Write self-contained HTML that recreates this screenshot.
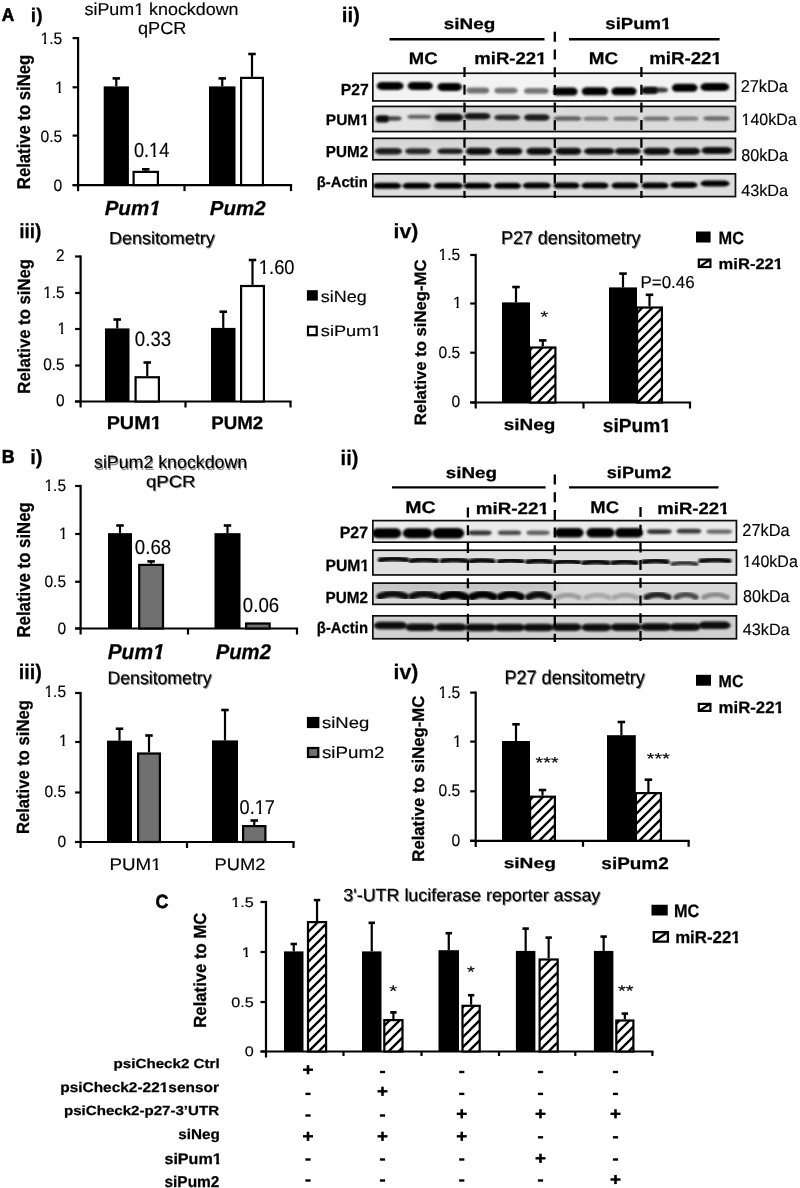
<!DOCTYPE html>
<html><head><meta charset="utf-8"><title>Figure</title>
<style>
html,body{margin:0;padding:0;background:#fff;}
svg{display:block;}
.sh{filter:url(#sh);}
text{font-family:"Liberation Sans",sans-serif;font-kerning:none;text-rendering:geometricPrecision;}
text[font-weight="bold"]{stroke:#000;stroke-width:0.25px;}
text:not([font-weight]):not(.sh){stroke:#000;stroke-width:0.15px;}
text.pl{stroke-width:0.6px;}
</style></head><body>
<svg width="800" height="1188" viewBox="0 0 800 1188">
<defs>
<pattern id="hatch" patternUnits="userSpaceOnUse" width="10" height="10">
<rect width="10" height="10" fill="#fff"/>
<path d="M-2.5,2.5 L2.5,-2.5 M-2.5,12.5 L12.5,-2.5 M7.5,12.5 L12.5,7.5" stroke="#000" stroke-width="2.3"/>
</pattern>
<filter id="f1" x="-30%" y="-100%" width="160%" height="300%"><feGaussianBlur stdDeviation="0.8"/></filter>
<filter id="f2" x="-30%" y="-100%" width="160%" height="300%"><feGaussianBlur stdDeviation="1.6"/></filter>
<filter id="soft" x="0" y="0" width="800" height="1188" filterUnits="userSpaceOnUse"><feGaussianBlur stdDeviation="0.35"/></filter>
<filter id="sh" x="-10%" y="-50%" width="120%" height="200%"><feGaussianBlur stdDeviation="0.6"/></filter>
<filter id="f3" x="-20%" y="-50%" width="140%" height="200%"><feGaussianBlur stdDeviation="3"/></filter>
<filter id="f0" x="-30%" y="-100%" width="160%" height="300%"><feGaussianBlur stdDeviation="0.6"/></filter>
</defs>
<rect width="800" height="1188" fill="#fff"/>
<g filter="url(#soft)">
<text transform="translate(1.87,21.30) scale(0.9447,1)" font-size="18.33" font-weight="bold" class="pl">A</text>
<text transform="translate(30.86,21.81) scale(0.9722,1)" font-size="19.73" font-weight="bold">i)</text>
<clipPath id="ft1" clipPathUnits="userSpaceOnUse"><rect x="-2000" y="-2000" width="5000" height="1997.12"/><rect x="-2000.00" y="-3.68" width="2047.83" height="2000"/><rect x="51.49" y="-3.68" width="2.42" height="2000"/><rect x="57.43" y="-3.68" width="2942.57" height="2000"/></clipPath>
<text transform="translate(84.51,15.43) scale(1.0438,1)" font-size="17.14" clip-path="url(#ft1)">siPum1 knockdown</text>
<text transform="translate(137.93,34.40) scale(1.0466,1)" font-size="17.35">qPCR</text>
<line x1="78.10" y1="37.00" x2="78.10" y2="191.20" stroke="#000" stroke-width="2.2"/>
<line x1="72.60" y1="38.10" x2="78.10" y2="38.10" stroke="#000" stroke-width="2.2"/>
<line x1="72.60" y1="87.30" x2="78.10" y2="87.30" stroke="#000" stroke-width="2.2"/>
<line x1="72.60" y1="135.60" x2="78.10" y2="135.60" stroke="#000" stroke-width="2.2"/>
<line x1="72.60" y1="185.10" x2="78.10" y2="185.10" stroke="#000" stroke-width="2.2"/>
<line x1="72.60" y1="185.10" x2="292.10" y2="185.10" stroke="#000" stroke-width="2.2"/>
<line x1="184.50" y1="185.10" x2="184.50" y2="191.10" stroke="#000" stroke-width="2.2"/>
<line x1="291.00" y1="185.10" x2="291.00" y2="191.10" stroke="#000" stroke-width="2.2"/>
<clipPath id="ft2" clipPathUnits="userSpaceOnUse"><rect x="-2000" y="-2000" width="5000" height="1997.16"/><rect x="-2000.00" y="-3.64" width="1977.17" height="2000"/><rect x="-19.28" y="-3.64" width="2.36" height="2000"/><rect x="-13.50" y="-3.64" width="3013.50" height="2000"/></clipPath>
<text transform="translate(62.23,44.03) scale(0.9463,1)" font-size="16.54" text-anchor="end" clip-path="url(#ft2)">1.5</text>
<clipPath id="ft3" clipPathUnits="userSpaceOnUse"><rect x="-2000" y="-2000" width="5000" height="1997.16"/><rect x="-2000.00" y="-3.64" width="1990.96" height="2000"/><rect x="-5.49" y="-3.64" width="2.36" height="2000"/><rect x="0.29" y="-3.64" width="2999.71" height="2000"/></clipPath>
<text transform="translate(63.73,93.23) scale(0.9463,1)" font-size="16.54" text-anchor="end" clip-path="url(#ft3)">1</text>
<text transform="translate(62.23,141.53) scale(0.9463,1)" font-size="16.54" text-anchor="end">0.5</text>
<text transform="translate(62.23,191.03) scale(0.9463,1)" font-size="16.54" text-anchor="end">0</text>
<text transform="translate(30.36,189.13) rotate(-90) scale(0.8991,1)" font-size="18.56" font-weight="bold">Relative to siNeg</text>
<line x1="116.30" y1="78.40" x2="116.30" y2="86.40" stroke="#000" stroke-width="2.2"/>
<line x1="112.55" y1="78.40" x2="120.05" y2="78.40" stroke="#000" stroke-width="2.6"/>
<rect x="103.70" y="86.40" width="25.20" height="98.70" fill="#000"/>
<line x1="145.75" y1="169.30" x2="145.75" y2="170.80" stroke="#000" stroke-width="2.2"/>
<line x1="142.00" y1="169.30" x2="149.50" y2="169.30" stroke="#000" stroke-width="2.6"/>
<rect x="133.60" y="171.90" width="24.30" height="13.20" fill="#fff" stroke="#000" stroke-width="2.2"/>
<line x1="222.25" y1="78.40" x2="222.25" y2="86.40" stroke="#000" stroke-width="2.2"/>
<line x1="218.50" y1="78.40" x2="226.00" y2="78.40" stroke="#000" stroke-width="2.6"/>
<rect x="209.00" y="86.40" width="26.50" height="98.70" fill="#000"/>
<line x1="252.00" y1="54.00" x2="252.00" y2="76.80" stroke="#000" stroke-width="2.2"/>
<line x1="248.25" y1="54.00" x2="255.75" y2="54.00" stroke="#000" stroke-width="2.6"/>
<rect x="241.10" y="77.90" width="21.80" height="107.20" fill="#fff" stroke="#000" stroke-width="2.2"/>
<clipPath id="ft4" clipPathUnits="userSpaceOnUse"><rect x="-2000" y="-2000" width="5000" height="1996.87"/><rect x="-2000.00" y="-3.93" width="2017.55" height="2000"/><rect x="21.80" y="-3.93" width="2.71" height="2000"/><rect x="28.59" y="-3.93" width="2971.41" height="2000"/></clipPath>
<text transform="translate(133.97,157.20) scale(0.8862,1)" font-size="20.49" clip-path="url(#ft4)">0.14</text>
<clipPath id="ft5" clipPathUnits="userSpaceOnUse"><rect x="-2000" y="-2000" width="5000" height="1996.09"/><rect x="-2000.00" y="-4.71" width="2043.66" height="2000"/><rect x="47.78" y="-4.71" width="4.16" height="2000"/><rect x="55.39" y="-4.71" width="2944.61" height="2000"/></clipPath>
<text transform="translate(104.64,215.09) scale(1.0045,1)" font-size="20.50" font-weight="bold" font-style="italic" clip-path="url(#ft5)">Pum1</text>
<text transform="translate(209.84,215.10) scale(1.0152,1)" font-size="20.21" font-weight="bold" font-style="italic">Pum2</text>
<!--A-ii-->
<text transform="translate(341.66,22.14) scale(0.9794,1)" font-size="21.02" font-weight="bold">ii)</text>
<text transform="translate(443.74,28.74) scale(1.2313,1)" font-size="15.36" font-weight="bold">siNeg</text>
<line x1="389.50" y1="39.30" x2="544.50" y2="39.30" stroke="#000" stroke-width="2.4"/>
<clipPath id="ft6" clipPathUnits="userSpaceOnUse"><rect x="-2000" y="-2000" width="5000" height="1996.76"/><rect x="-2000.00" y="-4.04" width="2048.09" height="2000"/><rect x="51.48" y="-4.04" width="3.10" height="2000"/><rect x="57.76" y="-4.04" width="2942.24" height="2000"/></clipPath>
<text transform="translate(605.35,29.24) scale(1.1580,1)" font-size="16.05" font-weight="bold" clip-path="url(#ft6)">siPum1</text>
<line x1="569.00" y1="39.30" x2="719.60" y2="39.30" stroke="#000" stroke-width="2.4"/>
<text transform="translate(408.75,64.23) scale(1.1088,1)" font-size="16.68" font-weight="bold">MC</text>
<clipPath id="ft7" clipPathUnits="userSpaceOnUse"><rect x="-2000" y="-2000" width="5000" height="1996.68"/><rect x="-2000.00" y="-4.12" width="2056.07" height="2000"/><rect x="59.59" y="-4.12" width="3.21" height="2000"/><rect x="66.10" y="-4.12" width="2933.90" height="2000"/></clipPath>
<text transform="translate(474.29,64.40) scale(1.1021,1)" font-size="16.83" font-weight="bold" clip-path="url(#ft7)">miR-221</text>
<text transform="translate(588.72,64.23) scale(1.1146,1)" font-size="16.96" font-weight="bold">MC</text>
<clipPath id="ft8" clipPathUnits="userSpaceOnUse"><rect x="-2000" y="-2000" width="5000" height="1996.65"/><rect x="-2000.00" y="-4.15" width="2057.01" height="2000"/><rect x="60.57" y="-4.15" width="3.25" height="2000"/><rect x="67.17" y="-4.15" width="2932.83" height="2000"/></clipPath>
<text transform="translate(649.19,64.40) scale(1.0923,1)" font-size="17.10" font-weight="bold" clip-path="url(#ft8)">miR-221</text>
<text transform="translate(340.84,95.00) scale(0.9742,1)" font-size="16.13" font-weight="bold">P27</text>
<clipPath id="ft9" clipPathUnits="userSpaceOnUse"><rect x="-2000" y="-2000" width="5000" height="1996.85"/><rect x="-2000.00" y="-3.95" width="2033.63" height="2000"/><rect x="36.87" y="-3.95" width="2.99" height="2000"/><rect x="42.90" y="-3.95" width="2957.10" height="2000"/></clipPath>
<text transform="translate(325.85,125.45) scale(1.0190,1)" font-size="15.20" font-weight="bold" clip-path="url(#ft9)">PUM1</text>
<text transform="translate(325.87,156.74) scale(0.9521,1)" font-size="15.97" font-weight="bold">PUM2</text>
<text transform="translate(316.76,186.93) scale(0.9996,1)" font-size="14.80" font-weight="bold">β-Actin</text>
<text transform="translate(740.68,92.23) scale(0.9551,1)" font-size="17.14">27kDa</text>
<clipPath id="ft10" clipPathUnits="userSpaceOnUse"><rect x="-2000" y="-2000" width="5000" height="1997.17"/><rect x="-2000.00" y="-3.63" width="2000.15" height="2000"/><rect x="3.69" y="-3.63" width="2.35" height="2000"/><rect x="9.45" y="-3.63" width="2990.55" height="2000"/></clipPath>
<text transform="translate(741.58,125.14) scale(0.9719,1)" font-size="16.46" clip-path="url(#ft10)">140kDa</text>
<text transform="translate(741.31,161.23) scale(0.9423,1)" font-size="17.14">80kDa</text>
<text transform="translate(741.14,195.64) scale(0.9932,1)" font-size="16.33">43kDa</text>
<clipPath id="cA1"><rect x="372.00" y="72.40" width="364.30" height="29.40"/></clipPath>
<rect x="372.00" y="72.40" width="364.30" height="29.40" fill="#f3f3f3"/>
<g clip-path="url(#cA1)">
<rect x="376.70" y="82.10" width="26.90" height="7.80" rx="5.38" ry="3.90" fill="#000" filter="url(#f1)"/>
<rect x="407.60" y="82.10" width="25.30" height="7.80" rx="5.06" ry="3.90" fill="#000" filter="url(#f1)"/>
<rect x="437.30" y="83.10" width="24.60" height="7.80" rx="4.92" ry="3.90" fill="#000" filter="url(#f1)"/>
<rect x="466.30" y="87.60" width="22.90" height="5.80" rx="4.58" ry="2.90" fill="#707070" filter="url(#f1)"/>
<rect x="494.30" y="87.70" width="23.30" height="5.80" rx="4.66" ry="2.90" fill="#747474" filter="url(#f1)"/>
<rect x="524.00" y="88.00" width="24.60" height="5.80" rx="4.92" ry="2.90" fill="#747474" filter="url(#f1)"/>
<rect x="553.20" y="87.60" width="24.40" height="8.00" rx="4.88" ry="4.00" fill="#000" filter="url(#f1)"/>
<rect x="581.70" y="87.30" width="26.40" height="8.00" rx="5.28" ry="4.00" fill="#000" filter="url(#f1)"/>
<rect x="611.40" y="87.30" width="25.20" height="8.00" rx="5.04" ry="4.00" fill="#000" filter="url(#f1)"/>
<rect x="642.20" y="87.60" width="25.80" height="5.00" rx="5.16" ry="2.50" fill="#3a3a3a" filter="url(#f1)"/>
<rect x="641.90" y="87.00" width="15.70" height="7.00" rx="3.14" ry="3.50" fill="#111" filter="url(#f1)"/>
<rect x="671.90" y="83.80" width="25.70" height="8.00" rx="5.14" ry="4.00" fill="#000" filter="url(#f1)"/>
<rect x="700.40" y="83.00" width="28.90" height="8.00" rx="5.78" ry="4.00" fill="#000" filter="url(#f1)"/>
</g>
<rect x="372.85" y="73.25" width="362.60" height="27.70" fill="none" stroke="#111" stroke-width="1.7"/>
<clipPath id="cA2"><rect x="372.00" y="105.60" width="364.30" height="26.80"/></clipPath>
<rect x="372.00" y="105.60" width="364.30" height="26.80" fill="#e3e3e3"/>
<g clip-path="url(#cA2)">
<rect x="432.00" y="104.00" width="128.00" height="30.00" fill="#d6d6d6" filter="url(#f3)"/>
<rect x="560.00" y="104.00" width="180.00" height="30.00" fill="#dadada" filter="url(#f3)"/>
<rect x="376.40" y="116.15" width="25.20" height="4.50" rx="5.04" ry="2.25" fill="#444" filter="url(#f1)"/>
<rect x="375.90" y="115.50" width="12.70" height="7.00" rx="2.54" ry="3.50" fill="#111" filter="url(#f1)"/>
<rect x="407.40" y="114.80" width="23.60" height="4.00" rx="4.72" ry="2.00" fill="#606060" filter="url(#f1)"/>
<rect x="434.90" y="113.75" width="28.10" height="7.50" rx="5.62" ry="3.75" fill="#080808" filter="url(#f1)"/>
<rect x="464.40" y="113.05" width="26.00" height="6.50" rx="5.20" ry="3.25" fill="#151515" filter="url(#f1)"/>
<rect x="494.30" y="114.75" width="25.80" height="5.50" rx="5.16" ry="2.75" fill="#2a2a2a" filter="url(#f1)"/>
<rect x="524.00" y="114.25" width="25.60" height="6.50" rx="5.12" ry="3.25" fill="#1a1a1a" filter="url(#f1)"/>
<rect x="553.40" y="116.35" width="28.20" height="4.50" rx="5.64" ry="2.25" fill="#5e5e5e" filter="url(#f1)"/>
<rect x="583.40" y="116.60" width="25.20" height="4.20" rx="5.04" ry="2.10" fill="#7e7e7e" filter="url(#f1)"/>
<rect x="613.40" y="116.60" width="25.20" height="4.20" rx="5.04" ry="2.10" fill="#7a7a7a" filter="url(#f1)"/>
<rect x="643.40" y="116.60" width="26.20" height="4.20" rx="5.24" ry="2.10" fill="#6e6e6e" filter="url(#f1)"/>
<rect x="673.40" y="116.60" width="25.20" height="4.20" rx="5.04" ry="2.10" fill="#808080" filter="url(#f1)"/>
<rect x="703.40" y="116.25" width="26.20" height="4.50" rx="5.24" ry="2.25" fill="#6a6a6a" filter="url(#f1)"/>
</g>
<rect x="372.85" y="106.45" width="362.60" height="25.10" fill="none" stroke="#111" stroke-width="1.7"/>
<clipPath id="cA3"><rect x="372.00" y="137.50" width="364.30" height="23.10"/></clipPath>
<rect x="372.00" y="137.50" width="364.30" height="23.10" fill="#dcdcdc"/>
<g clip-path="url(#cA3)">
<rect x="370.00" y="136.00" width="370.00" height="10.00" fill="#d4d4d4" filter="url(#f3)"/>
<rect x="375.00" y="147.95" width="27.00" height="6.50" rx="5.40" ry="3.25" fill="#1c1c1c" filter="url(#f1)"/>
<rect x="405.20" y="148.20" width="25.80" height="6.00" rx="5.16" ry="3.00" fill="#282828" filter="url(#f1)"/>
<rect x="437.30" y="148.45" width="25.70" height="5.50" rx="5.14" ry="2.75" fill="#1a1a1a" filter="url(#f1)"/>
<rect x="465.80" y="147.70" width="25.80" height="7.00" rx="5.16" ry="3.50" fill="#080808" filter="url(#f1)"/>
<rect x="495.40" y="147.70" width="27.00" height="7.00" rx="5.40" ry="3.50" fill="#080808" filter="url(#f1)"/>
<rect x="526.40" y="147.70" width="25.70" height="7.00" rx="5.14" ry="3.50" fill="#080808" filter="url(#f1)"/>
<rect x="555.40" y="147.70" width="25.90" height="7.00" rx="5.18" ry="3.50" fill="#080808" filter="url(#f1)"/>
<rect x="584.00" y="147.95" width="30.60" height="6.50" rx="6.12" ry="3.25" fill="#080808" filter="url(#f1)"/>
<rect x="614.90" y="147.95" width="25.70" height="6.50" rx="5.14" ry="3.25" fill="#080808" filter="url(#f1)"/>
<rect x="643.40" y="147.70" width="27.00" height="7.00" rx="5.40" ry="3.50" fill="#080808" filter="url(#f1)"/>
<rect x="673.10" y="147.70" width="27.00" height="7.00" rx="5.40" ry="3.50" fill="#080808" filter="url(#f1)"/>
<rect x="701.40" y="147.00" width="30.70" height="7.00" rx="6.14" ry="3.50" fill="#080808" filter="url(#f1)"/>
</g>
<rect x="372.85" y="138.35" width="362.60" height="21.40" fill="none" stroke="#111" stroke-width="1.7"/>
<clipPath id="cA4"><rect x="372.00" y="173.00" width="364.30" height="24.40"/></clipPath>
<rect x="372.00" y="173.00" width="364.30" height="24.40" fill="#dedede"/>
<g clip-path="url(#cA4)">
<rect x="372.90" y="182.80" width="28.40" height="6.00" rx="5.68" ry="3.00" fill="#000" filter="url(#f1)"/>
<rect x="402.40" y="182.80" width="28.80" height="6.00" rx="5.76" ry="3.00" fill="#000" filter="url(#f1)"/>
<rect x="433.60" y="182.80" width="29.40" height="6.00" rx="5.88" ry="3.00" fill="#000" filter="url(#f1)"/>
<rect x="463.40" y="182.80" width="28.20" height="6.00" rx="5.64" ry="3.00" fill="#000" filter="url(#f1)"/>
<rect x="493.90" y="182.80" width="27.30" height="6.00" rx="5.46" ry="3.00" fill="#000" filter="url(#f1)"/>
<rect x="522.80" y="182.60" width="28.10" height="6.00" rx="5.62" ry="3.00" fill="#000" filter="url(#f1)"/>
<rect x="553.40" y="182.60" width="26.20" height="6.00" rx="5.24" ry="3.00" fill="#000" filter="url(#f1)"/>
<rect x="581.40" y="182.60" width="27.20" height="6.00" rx="5.44" ry="3.00" fill="#000" filter="url(#f1)"/>
<rect x="611.40" y="182.60" width="27.20" height="6.00" rx="5.44" ry="3.00" fill="#000" filter="url(#f1)"/>
<rect x="641.40" y="182.60" width="27.20" height="6.00" rx="5.44" ry="3.00" fill="#000" filter="url(#f1)"/>
<rect x="670.40" y="182.00" width="27.20" height="6.00" rx="5.44" ry="3.00" fill="#000" filter="url(#f1)"/>
<rect x="700.40" y="180.50" width="29.20" height="6.00" rx="5.84" ry="3.00" fill="#000" filter="url(#f1)"/>
</g>
<rect x="372.85" y="173.85" width="362.60" height="22.70" fill="none" stroke="#111" stroke-width="1.7"/>
<line x1="464.50" y1="67.00" x2="464.50" y2="198.00" stroke="#000" stroke-width="2.3" stroke-dasharray="10,7.7"/>
<line x1="554.80" y1="31.80" x2="554.80" y2="198.00" stroke="#000" stroke-width="2.3" stroke-dasharray="10,7.7"/>
<line x1="641.40" y1="67.00" x2="641.40" y2="198.00" stroke="#000" stroke-width="2.3" stroke-dasharray="10,7.7"/>
<text transform="translate(19.16,238.27) scale(0.9393,1)" font-size="20.38" font-weight="bold">iii)</text>
<text transform="translate(110.02,245.10) scale(1.0332,1)" font-size="17.37" fill="#8a8a8a" class="sh">Densitometry</text>
<text transform="translate(109.02,243.90) scale(1.0332,1)" font-size="17.37">Densitometry</text>
<line x1="80.60" y1="255.40" x2="80.60" y2="407.50" stroke="#000" stroke-width="2.2"/>
<line x1="75.10" y1="256.50" x2="80.60" y2="256.50" stroke="#000" stroke-width="2.2"/>
<line x1="75.10" y1="293.00" x2="80.60" y2="293.00" stroke="#000" stroke-width="2.2"/>
<line x1="75.10" y1="329.00" x2="80.60" y2="329.00" stroke="#000" stroke-width="2.2"/>
<line x1="75.10" y1="365.50" x2="80.60" y2="365.50" stroke="#000" stroke-width="2.2"/>
<line x1="75.10" y1="401.50" x2="80.60" y2="401.50" stroke="#000" stroke-width="2.2"/>
<line x1="75.00" y1="401.50" x2="291.60" y2="401.50" stroke="#000" stroke-width="2.2"/>
<line x1="185.50" y1="401.50" x2="185.50" y2="407.50" stroke="#000" stroke-width="2.2"/>
<line x1="290.50" y1="401.50" x2="290.50" y2="407.50" stroke="#000" stroke-width="2.2"/>
<text transform="translate(64.62,261.43) scale(0.9245,1)" font-size="16.68" text-anchor="end">2</text>
<clipPath id="ft11" clipPathUnits="userSpaceOnUse"><rect x="-2000" y="-2000" width="5000" height="1997.15"/><rect x="-2000.00" y="-3.65" width="1976.99" height="2000"/><rect x="-19.44" y="-3.65" width="2.37" height="2000"/><rect x="-13.62" y="-3.65" width="3013.62" height="2000"/></clipPath>
<text transform="translate(64.62,297.93) scale(0.9245,1)" font-size="16.68" text-anchor="end" clip-path="url(#ft11)">1.5</text>
<clipPath id="ft12" clipPathUnits="userSpaceOnUse"><rect x="-2000" y="-2000" width="5000" height="1997.15"/><rect x="-2000.00" y="-3.65" width="1990.89" height="2000"/><rect x="-5.53" y="-3.65" width="2.37" height="2000"/><rect x="0.29" y="-3.65" width="2999.71" height="2000"/></clipPath>
<text transform="translate(66.12,333.93) scale(0.9245,1)" font-size="16.68" text-anchor="end" clip-path="url(#ft12)">1</text>
<text transform="translate(64.62,370.43) scale(0.9245,1)" font-size="16.68" text-anchor="end">0.5</text>
<text transform="translate(64.62,406.43) scale(0.9245,1)" font-size="16.68" text-anchor="end">0</text>
<text transform="translate(29.76,393.63) rotate(-90) scale(0.9500,1)" font-size="17.60" font-weight="bold">Relative to siNeg</text>
<line x1="117.25" y1="319.50" x2="117.25" y2="328.40" stroke="#000" stroke-width="2.2"/>
<line x1="113.50" y1="319.50" x2="121.00" y2="319.50" stroke="#000" stroke-width="2.6"/>
<rect x="105.00" y="328.40" width="24.50" height="73.10" fill="#000"/>
<line x1="147.25" y1="362.50" x2="147.25" y2="376.15" stroke="#000" stroke-width="2.2"/>
<line x1="143.50" y1="362.50" x2="151.00" y2="362.50" stroke="#000" stroke-width="2.6"/>
<rect x="135.60" y="377.25" width="23.30" height="24.25" fill="#fff" stroke="#000" stroke-width="2.2"/>
<line x1="223.25" y1="311.70" x2="223.25" y2="327.90" stroke="#000" stroke-width="2.2"/>
<line x1="219.50" y1="311.70" x2="227.00" y2="311.70" stroke="#000" stroke-width="2.6"/>
<rect x="211.00" y="327.90" width="24.50" height="73.60" fill="#000"/>
<line x1="252.50" y1="260.00" x2="252.50" y2="284.90" stroke="#000" stroke-width="2.2"/>
<line x1="248.75" y1="260.00" x2="256.25" y2="260.00" stroke="#000" stroke-width="2.6"/>
<rect x="241.10" y="286.00" width="22.80" height="115.50" fill="#fff" stroke="#000" stroke-width="2.2"/>
<text transform="translate(134.85,345.59) scale(0.8906,1)" font-size="20.92">0.33</text>
<clipPath id="ft13" clipPathUnits="userSpaceOnUse"><rect x="-2000" y="-2000" width="5000" height="1996.91"/><rect x="-2000.00" y="-3.89" width="2000.42" height="2000"/><rect x="4.56" y="-3.89" width="2.66" height="2000"/><rect x="11.21" y="-3.89" width="2988.79" height="2000"/></clipPath>
<text transform="translate(258.86,274.10) scale(0.9191,1)" font-size="19.93" clip-path="url(#ft13)">1.60</text>
<rect x="306.90" y="290.20" width="10.90" height="10.40" fill="#000"/>
<rect x="308" y="326.7" width="8.7" height="8.5" fill="#fff" stroke="#000" stroke-width="2.2"/>
<text transform="translate(320.81,302.06) scale(1.1172,1)" font-size="16.09">siNeg</text>
<clipPath id="ft14" clipPathUnits="userSpaceOnUse"><rect x="-2000" y="-2000" width="5000" height="1997.26"/><rect x="-2000.00" y="-3.54" width="2042.40" height="2000"/><rect x="45.72" y="-3.54" width="2.25" height="2000"/><rect x="51.17" y="-3.54" width="2948.83" height="2000"/></clipPath>
<text transform="translate(320.80,336.25) scale(1.1936,1)" font-size="15.24" clip-path="url(#ft14)">siPum1</text>
<clipPath id="ft15" clipPathUnits="userSpaceOnUse"><rect x="-2000" y="-2000" width="5000" height="1996.50"/><rect x="-2000.00" y="-4.30" width="2041.49" height="2000"/><rect x="45.32" y="-4.30" width="3.46" height="2000"/><rect x="52.36" y="-4.30" width="2947.64" height="2000"/></clipPath>
<text transform="translate(106.66,428.81) scale(1.0625,1)" font-size="18.64" font-weight="bold" clip-path="url(#ft15)">PUM1</text>
<text transform="translate(211.24,428.62) scale(1.0351,1)" font-size="18.09" font-weight="bold">PUM2</text>
<text transform="translate(393.62,238.15) scale(1.0347,1)" font-size="20.48" font-weight="bold">iv)</text>
<text transform="translate(501.92,245.37) scale(0.9734,1)" font-size="18.45" fill="#8a8a8a" class="sh">P27 densitometry</text>
<text transform="translate(500.92,244.17) scale(0.9734,1)" font-size="18.45">P27 densitometry</text>
<line x1="475.70" y1="253.90" x2="475.70" y2="408.50" stroke="#000" stroke-width="2.2"/>
<line x1="470.20" y1="255.00" x2="475.70" y2="255.00" stroke="#000" stroke-width="2.2"/>
<line x1="470.20" y1="303.50" x2="475.70" y2="303.50" stroke="#000" stroke-width="2.2"/>
<line x1="470.20" y1="352.70" x2="475.70" y2="352.70" stroke="#000" stroke-width="2.2"/>
<line x1="470.20" y1="402.50" x2="475.70" y2="402.50" stroke="#000" stroke-width="2.2"/>
<line x1="470.00" y1="402.50" x2="691.10" y2="402.50" stroke="#000" stroke-width="2.2"/>
<line x1="583.50" y1="402.50" x2="583.50" y2="408.50" stroke="#000" stroke-width="2.2"/>
<line x1="690.00" y1="402.50" x2="690.00" y2="408.50" stroke="#000" stroke-width="2.2"/>
<clipPath id="ft16" clipPathUnits="userSpaceOnUse"><rect x="-2000" y="-2000" width="5000" height="1997.18"/><rect x="-2000.00" y="-3.62" width="1977.36" height="2000"/><rect x="-19.12" y="-3.62" width="2.35" height="2000"/><rect x="-13.37" y="-3.62" width="3013.37" height="2000"/></clipPath>
<text transform="translate(460.23,259.84) scale(0.9544,1)" font-size="16.40" text-anchor="end" clip-path="url(#ft16)">1.5</text>
<clipPath id="ft17" clipPathUnits="userSpaceOnUse"><rect x="-2000" y="-2000" width="5000" height="1997.18"/><rect x="-2000.00" y="-3.62" width="1991.03" height="2000"/><rect x="-5.45" y="-3.62" width="2.35" height="2000"/><rect x="0.30" y="-3.62" width="2999.70" height="2000"/></clipPath>
<text transform="translate(461.73,307.94) scale(0.9544,1)" font-size="16.40" text-anchor="end" clip-path="url(#ft17)">1</text>
<text transform="translate(460.23,357.94) scale(0.9544,1)" font-size="16.40" text-anchor="end">0.5</text>
<text transform="translate(460.23,406.94) scale(0.9544,1)" font-size="16.40" text-anchor="end">0</text>
<text transform="translate(425.99,425.33) rotate(-90) scale(1.0092,1)" font-size="16.53" font-weight="bold">Relative to siNeg-MC</text>
<line x1="516.00" y1="287.00" x2="516.00" y2="302.40" stroke="#000" stroke-width="2.2"/>
<line x1="512.25" y1="287.00" x2="519.75" y2="287.00" stroke="#000" stroke-width="2.6"/>
<rect x="502.00" y="302.40" width="28.00" height="100.10" fill="#000"/>
<line x1="542.75" y1="340.40" x2="542.75" y2="346.40" stroke="#000" stroke-width="2.2"/>
<line x1="539.00" y1="340.40" x2="546.50" y2="340.40" stroke="#000" stroke-width="2.6"/>
<rect x="530.10" y="347.50" width="25.30" height="55.00" fill="url(#hatch)" stroke="#000" stroke-width="2.2"/>
<line x1="623.00" y1="273.60" x2="623.00" y2="287.40" stroke="#000" stroke-width="2.2"/>
<line x1="619.25" y1="273.60" x2="626.75" y2="273.60" stroke="#000" stroke-width="2.6"/>
<rect x="609.00" y="287.40" width="28.00" height="115.10" fill="#000"/>
<line x1="649.50" y1="294.80" x2="649.50" y2="306.40" stroke="#000" stroke-width="2.2"/>
<line x1="645.75" y1="294.80" x2="653.25" y2="294.80" stroke="#000" stroke-width="2.6"/>
<rect x="637.10" y="307.50" width="24.80" height="95.00" fill="url(#hatch)" stroke="#000" stroke-width="2.2"/>
<text transform="translate(540.55,321.90) scale(1.2727,1)" font-size="15.71">*</text>
<text transform="translate(640.50,287.73) scale(0.9904,1)" font-size="17.10">P=0.46</text>
<text transform="translate(503.64,429.60) scale(1.1845,1)" font-size="16.00" font-weight="bold">siNeg</text>
<clipPath id="ft18" clipPathUnits="userSpaceOnUse"><rect x="-2000" y="-2000" width="5000" height="1996.46"/><rect x="-2000.00" y="-4.34" width="2057.26" height="2000"/><rect x="61.16" y="-4.34" width="3.51" height="2000"/><rect x="68.32" y="-4.34" width="2931.68" height="2000"/></clipPath>
<text transform="translate(602.73,431.81) scale(1.0091,1)" font-size="19.05" font-weight="bold" clip-path="url(#ft18)">siPum1</text>
<rect x="696.00" y="231.50" width="14.60" height="11.00" fill="#000"/>
<g transform="translate(698.8,259.6)"><rect x="0" y="0" width="11.6" height="7.4" fill="#fff" stroke="#000" stroke-width="2.2"/><line x1="1" y1="7" x2="10.6" y2="0.4" stroke="#000" stroke-width="2.2"/></g>
<text transform="translate(718.60,243.82) scale(0.9265,1)" font-size="17.67" font-weight="bold">MC</text>
<clipPath id="ft19" clipPathUnits="userSpaceOnUse"><rect x="-2000" y="-2000" width="5000" height="1996.85"/><rect x="-2000.00" y="-3.95" width="2050.45" height="2000"/><rect x="53.68" y="-3.95" width="2.98" height="2000"/><rect x="59.71" y="-3.95" width="2940.29" height="2000"/></clipPath>
<text transform="translate(718.62,268.60) scale(1.0919,1)" font-size="15.17" font-weight="bold" clip-path="url(#ft19)">miR-221</text>
<text transform="translate(1.79,463.30) scale(0.9450,1)" font-size="18.91" font-weight="bold" class="pl">B</text>
<text transform="translate(30.17,464.25) scale(0.9964,1)" font-size="20.48" font-weight="bold">i)</text>
<text transform="translate(95.01,469.52) scale(1.0051,1)" font-size="17.69" fill="#8a8a8a" class="sh">siPum2 knockdown</text>
<text transform="translate(94.01,468.32) scale(1.0051,1)" font-size="17.69">siPum2 knockdown</text>
<text transform="translate(146.91,488.31) scale(1.1364,1)" font-size="16.35" fill="#8a8a8a" class="sh">qPCR</text>
<text transform="translate(145.91,487.11) scale(1.1364,1)" font-size="16.35">qPCR</text>
<line x1="80.60" y1="484.90" x2="80.60" y2="634.50" stroke="#000" stroke-width="2.2"/>
<line x1="75.10" y1="486.00" x2="80.60" y2="486.00" stroke="#000" stroke-width="2.2"/>
<line x1="75.10" y1="534.00" x2="80.60" y2="534.00" stroke="#000" stroke-width="2.2"/>
<line x1="75.10" y1="581.75" x2="80.60" y2="581.75" stroke="#000" stroke-width="2.2"/>
<line x1="75.10" y1="628.50" x2="80.60" y2="628.50" stroke="#000" stroke-width="2.2"/>
<line x1="75.00" y1="628.50" x2="298.10" y2="628.50" stroke="#000" stroke-width="2.2"/>
<line x1="188.00" y1="628.50" x2="188.00" y2="634.50" stroke="#000" stroke-width="2.2"/>
<line x1="297.00" y1="628.50" x2="297.00" y2="634.50" stroke="#000" stroke-width="2.2"/>
<clipPath id="ft20" clipPathUnits="userSpaceOnUse"><rect x="-2000" y="-2000" width="5000" height="1997.16"/><rect x="-2000.00" y="-3.64" width="1977.17" height="2000"/><rect x="-19.28" y="-3.64" width="2.36" height="2000"/><rect x="-13.50" y="-3.64" width="3013.50" height="2000"/></clipPath>
<text transform="translate(66.02,490.73) scale(0.9371,1)" font-size="16.54" text-anchor="end" clip-path="url(#ft20)">1.5</text>
<clipPath id="ft21" clipPathUnits="userSpaceOnUse"><rect x="-2000" y="-2000" width="5000" height="1997.16"/><rect x="-2000.00" y="-3.64" width="1990.96" height="2000"/><rect x="-5.49" y="-3.64" width="2.36" height="2000"/><rect x="0.29" y="-3.64" width="2999.71" height="2000"/></clipPath>
<text transform="translate(67.52,539.33) scale(0.9371,1)" font-size="16.54" text-anchor="end" clip-path="url(#ft21)">1</text>
<text transform="translate(66.02,586.53) scale(0.9371,1)" font-size="16.54" text-anchor="end">0.5</text>
<text transform="translate(66.02,633.63) scale(0.9371,1)" font-size="16.54" text-anchor="end">0</text>
<text transform="translate(30.01,637.53) rotate(-90) scale(0.8953,1)" font-size="18.77" font-weight="bold">Relative to siNeg</text>
<line x1="120.00" y1="525.50" x2="120.00" y2="533.15" stroke="#000" stroke-width="2.2"/>
<line x1="116.25" y1="525.50" x2="123.75" y2="525.50" stroke="#000" stroke-width="2.6"/>
<rect x="108.00" y="533.15" width="24.00" height="95.35" fill="#000"/>
<line x1="151.10" y1="561.40" x2="151.10" y2="563.80" stroke="#000" stroke-width="2.2"/>
<line x1="147.35" y1="561.40" x2="154.85" y2="561.40" stroke="#000" stroke-width="2.6"/>
<rect x="139.20" y="564.90" width="23.80" height="63.60" fill="#6f6f6f" stroke="#000" stroke-width="2.2"/>
<line x1="227.50" y1="525.50" x2="227.50" y2="533.15" stroke="#000" stroke-width="2.2"/>
<line x1="223.75" y1="525.50" x2="231.25" y2="525.50" stroke="#000" stroke-width="2.6"/>
<rect x="214.50" y="533.15" width="26.00" height="95.35" fill="#000"/>
<rect x="246.10" y="623.50" width="23.55" height="5.00" fill="#6f6f6f" stroke="#000" stroke-width="2.2"/>
<text transform="translate(134.85,553.80) scale(0.9091,1)" font-size="20.49">0.68</text>
<text transform="translate(242.85,612.20) scale(0.9091,1)" font-size="20.49">0.06</text>
<clipPath id="ft22" clipPathUnits="userSpaceOnUse"><rect x="-2000" y="-2000" width="5000" height="1995.97"/><rect x="-2000.00" y="-4.83" width="2045.85" height="2000"/><rect x="50.14" y="-4.83" width="4.32" height="2000"/><rect x="58.05" y="-4.83" width="2941.95" height="2000"/></clipPath>
<text transform="translate(107.63,659.28) scale(0.9755,1)" font-size="21.51" font-weight="bold" font-style="italic" clip-path="url(#ft22)">Pum1</text>
<text transform="translate(215.64,659.29) scale(0.9591,1)" font-size="21.20" font-weight="bold" font-style="italic">Pum2</text>
<text transform="translate(340.60,464.64) scale(0.9546,1)" font-size="21.02" font-weight="bold">ii)</text>
<text transform="translate(445.84,477.71) scale(1.2154,1)" font-size="15.47" font-weight="bold">siNeg</text>
<line x1="392.00" y1="487.40" x2="545.60" y2="487.40" stroke="#000" stroke-width="2.4"/>
<text transform="translate(606.77,478.34) scale(1.1106,1)" font-size="16.33" font-weight="bold">siPum2</text>
<line x1="569.00" y1="487.40" x2="718.50" y2="487.40" stroke="#000" stroke-width="2.4"/>
<text transform="translate(405.18,513.33) scale(1.1509,1)" font-size="16.96" font-weight="bold">MC</text>
<clipPath id="ft23" clipPathUnits="userSpaceOnUse"><rect x="-2000" y="-2000" width="5000" height="1996.71"/><rect x="-2000.00" y="-4.09" width="2055.13" height="2000"/><rect x="58.60" y="-4.09" width="3.17" height="2000"/><rect x="65.04" y="-4.09" width="2934.96" height="2000"/></clipPath>
<text transform="translate(475.77,513.50) scale(1.1387,1)" font-size="16.55" font-weight="bold" clip-path="url(#ft23)">miR-221</text>
<text transform="translate(590.25,513.33) scale(1.0903,1)" font-size="16.96" font-weight="bold">MC</text>
<clipPath id="ft24" clipPathUnits="userSpaceOnUse"><rect x="-2000" y="-2000" width="5000" height="1996.71"/><rect x="-2000.00" y="-4.09" width="2055.13" height="2000"/><rect x="58.60" y="-4.09" width="3.17" height="2000"/><rect x="65.04" y="-4.09" width="2934.96" height="2000"/></clipPath>
<text transform="translate(657.29,513.50) scale(1.1204,1)" font-size="16.55" font-weight="bold" clip-path="url(#ft24)">miR-221</text>
<text transform="translate(339.72,537.60) scale(0.9760,1)" font-size="16.34" font-weight="bold">P27</text>
<clipPath id="ft25" clipPathUnits="userSpaceOnUse"><rect x="-2000" y="-2000" width="5000" height="1996.73"/><rect x="-2000.00" y="-4.07" width="2036.25" height="2000"/><rect x="39.68" y="-4.07" width="3.14" height="2000"/><rect x="46.05" y="-4.07" width="2953.95" height="2000"/></clipPath>
<text transform="translate(325.54,571.44) scale(0.9621,1)" font-size="16.34" font-weight="bold" clip-path="url(#ft25)">PUM1</text>
<text transform="translate(325.57,603.04) scale(0.9484,1)" font-size="16.11" font-weight="bold">PUM2</text>
<text transform="translate(316.86,633.13) scale(0.9422,1)" font-size="15.76" font-weight="bold">β-Actin</text>
<text transform="translate(742.28,535.83) scale(0.9402,1)" font-size="17.41">27kDa</text>
<clipPath id="ft26" clipPathUnits="userSpaceOnUse"><rect x="-2000" y="-2000" width="5000" height="1997.16"/><rect x="-2000.00" y="-3.64" width="2000.16" height="2000"/><rect x="3.72" y="-3.64" width="2.37" height="2000"/><rect x="9.52" y="-3.64" width="2990.48" height="2000"/></clipPath>
<text transform="translate(742.68,567.33) scale(0.9639,1)" font-size="16.60" clip-path="url(#ft26)">140kDa</text>
<text transform="translate(743.01,601.83) scale(0.9403,1)" font-size="17.14">80kDa</text>
<text transform="translate(742.74,634.64) scale(0.9932,1)" font-size="16.33">43kDa</text>
<clipPath id="cB1"><rect x="372.00" y="519.75" width="365.30" height="23.25"/></clipPath>
<rect x="372.00" y="519.75" width="365.30" height="23.25" fill="#ebebeb"/>
<g clip-path="url(#cB1)">
<rect x="372.00" y="528.30" width="29.30" height="10.00" rx="5.86" ry="5.00" fill="#000" filter="url(#f1)"/>
<rect x="402.80" y="528.30" width="29.40" height="10.00" rx="5.88" ry="5.00" fill="#000" filter="url(#f1)"/>
<rect x="432.40" y="528.05" width="31.80" height="10.50" rx="6.36" ry="5.25" fill="#000" filter="url(#f1)"/>
<rect x="468.20" y="530.40" width="23.40" height="4.80" rx="4.68" ry="2.40" fill="#333" filter="url(#f1)"/>
<rect x="497.90" y="530.50" width="23.30" height="4.60" rx="4.66" ry="2.30" fill="#4a4a4a" filter="url(#f1)"/>
<rect x="526.40" y="530.60" width="23.20" height="4.40" rx="4.64" ry="2.20" fill="#5e5e5e" filter="url(#f1)"/>
<rect x="554.40" y="528.05" width="29.20" height="9.50" rx="5.84" ry="4.75" fill="#000" filter="url(#f1)"/>
<rect x="586.40" y="528.05" width="28.20" height="9.50" rx="5.64" ry="4.75" fill="#000" filter="url(#f1)"/>
<rect x="614.90" y="528.05" width="28.10" height="9.50" rx="5.62" ry="4.75" fill="#000" filter="url(#f1)"/>
<rect x="647.00" y="529.20" width="24.60" height="4.80" rx="4.92" ry="2.40" fill="#303030" filter="url(#f1)"/>
<rect x="676.70" y="528.80" width="24.50" height="4.80" rx="4.90" ry="2.40" fill="#3a3a3a" filter="url(#f1)"/>
<rect x="706.40" y="529.40" width="25.70" height="4.40" rx="5.14" ry="2.20" fill="#666" filter="url(#f1)"/>
</g>
<rect x="372.85" y="520.60" width="363.60" height="21.55" fill="none" stroke="#111" stroke-width="1.7"/>
<clipPath id="cB2"><rect x="372.00" y="549.40" width="365.30" height="26.40"/></clipPath>
<rect x="372.00" y="549.40" width="365.30" height="26.40" fill="#dfdfdf"/>
<g clip-path="url(#cB2)">
<path d="M380.60,560.10 Q393.45,557.50 406.30,560.10" stroke="#080808" stroke-width="5.60" stroke-linecap="round" fill="none" filter="url(#f1)"/>
<path d="M411.20,560.90 Q423.75,558.30 436.30,560.90" stroke="#080808" stroke-width="5.60" stroke-linecap="round" fill="none" filter="url(#f1)"/>
<path d="M442.50,561.10 Q454.10,558.50 465.70,561.10" stroke="#080808" stroke-width="5.60" stroke-linecap="round" fill="none" filter="url(#f1)"/>
<path d="M471.00,561.50 Q481.90,558.90 492.80,561.50" stroke="#080808" stroke-width="5.60" stroke-linecap="round" fill="none" filter="url(#f1)"/>
<path d="M499.50,561.70 Q510.75,559.10 522.00,561.70" stroke="#080808" stroke-width="5.60" stroke-linecap="round" fill="none" filter="url(#f1)"/>
<path d="M528.00,561.90 Q539.25,559.30 550.50,561.90" stroke="#080808" stroke-width="5.60" stroke-linecap="round" fill="none" filter="url(#f1)"/>
<path d="M556.00,562.60 Q567.25,560.00 578.50,562.60" stroke="#080808" stroke-width="5.60" stroke-linecap="round" fill="none" filter="url(#f1)"/>
<path d="M584.20,563.10 Q596.00,560.50 607.80,563.10" stroke="#080808" stroke-width="5.60" stroke-linecap="round" fill="none" filter="url(#f1)"/>
<path d="M613.20,563.10 Q624.50,560.50 635.80,563.10" stroke="#080808" stroke-width="5.60" stroke-linecap="round" fill="none" filter="url(#f1)"/>
<path d="M644.20,562.10 Q655.50,559.50 666.80,562.10" stroke="#080808" stroke-width="5.60" stroke-linecap="round" fill="none" filter="url(#f1)"/>
<path d="M672.50,564.10 Q684.50,561.50 696.50,564.10" stroke="#333" stroke-width="4.20" stroke-linecap="round" fill="none" filter="url(#f1)"/>
<path d="M701.00,561.10 Q715.00,558.50 729.00,561.10" stroke="#080808" stroke-width="5.20" stroke-linecap="round" fill="none" filter="url(#f1)"/>
</g>
<rect x="372.85" y="550.25" width="363.60" height="24.70" fill="none" stroke="#111" stroke-width="1.7"/>
<clipPath id="cB3"><rect x="372.00" y="582.30" width="365.30" height="22.90"/></clipPath>
<rect x="372.00" y="582.30" width="365.30" height="22.90" fill="#d8d8d8"/>
<g clip-path="url(#cB3)">
<rect x="372.00" y="580.00" width="184.00" height="12.00" fill="#c4c4c4" filter="url(#f3)"/>
<path d="M379.90,596.40 Q392.75,591.20 405.60,596.40" stroke="#080808" stroke-width="7.00" stroke-linecap="round" fill="none" filter="url(#f1)"/>
<path d="M411.90,596.40 Q424.00,591.20 436.10,596.40" stroke="#080808" stroke-width="7.00" stroke-linecap="round" fill="none" filter="url(#f1)"/>
<path d="M442.40,596.80 Q453.75,591.60 465.10,596.80" stroke="#000" stroke-width="8.00" stroke-linecap="round" fill="none" filter="url(#f1)"/>
<path d="M471.95,596.80 Q482.85,591.60 493.75,596.80" stroke="#000" stroke-width="7.50" stroke-linecap="round" fill="none" filter="url(#f1)"/>
<path d="M500.45,596.80 Q510.75,591.60 521.05,596.80" stroke="#000" stroke-width="7.50" stroke-linecap="round" fill="none" filter="url(#f1)"/>
<path d="M528.70,597.00 Q538.65,591.80 548.60,597.00" stroke="#080808" stroke-width="7.00" stroke-linecap="round" fill="none" filter="url(#f1)"/>
<path d="M556.90,597.60 Q568.00,592.40 579.10,597.60" stroke="#9c9c9c" stroke-width="5.00" stroke-linecap="round" fill="none" filter="url(#f1)"/>
<path d="M585.90,597.60 Q597.50,592.40 609.10,597.60" stroke="#a8a8a8" stroke-width="5.00" stroke-linecap="round" fill="none" filter="url(#f1)"/>
<path d="M613.90,597.60 Q625.50,592.40 637.10,597.60" stroke="#a4a4a4" stroke-width="5.00" stroke-linecap="round" fill="none" filter="url(#f1)"/>
<path d="M646.40,597.20 Q657.50,592.00 668.60,597.20" stroke="#202020" stroke-width="6.00" stroke-linecap="round" fill="none" filter="url(#f1)"/>
<path d="M676.15,597.20 Q686.00,592.00 695.85,597.20" stroke="#4a4a4a" stroke-width="5.50" stroke-linecap="round" fill="none" filter="url(#f1)"/>
<path d="M703.90,597.20 Q715.50,592.00 727.10,597.20" stroke="#8a8a8a" stroke-width="5.00" stroke-linecap="round" fill="none" filter="url(#f1)"/>
</g>
<rect x="372.85" y="583.15" width="363.60" height="21.20" fill="none" stroke="#111" stroke-width="1.7"/>
<clipPath id="cB4"><rect x="372.00" y="615.00" width="365.30" height="24.60"/></clipPath>
<rect x="372.00" y="615.00" width="365.30" height="24.60" fill="#d0d0d0"/>
<g clip-path="url(#cB4)">
<rect x="373.90" y="621.85" width="33.30" height="7.50" rx="6.66" ry="3.75" fill="#080808" filter="url(#f1)"/>
<rect x="405.40" y="623.55" width="30.20" height="7.50" rx="6.04" ry="3.75" fill="#080808" filter="url(#f1)"/>
<rect x="435.10" y="623.55" width="31.50" height="7.50" rx="6.30" ry="3.75" fill="#080808" filter="url(#f1)"/>
<rect x="464.80" y="623.75" width="31.50" height="7.50" rx="6.30" ry="3.75" fill="#080808" filter="url(#f1)"/>
<rect x="494.40" y="623.75" width="30.40" height="7.50" rx="6.08" ry="3.75" fill="#080808" filter="url(#f1)"/>
<rect x="523.00" y="623.75" width="30.30" height="7.50" rx="6.06" ry="3.75" fill="#080808" filter="url(#f1)"/>
<rect x="551.40" y="623.45" width="30.20" height="7.50" rx="6.04" ry="3.75" fill="#080808" filter="url(#f1)"/>
<rect x="581.40" y="623.65" width="30.20" height="7.50" rx="6.04" ry="3.75" fill="#080808" filter="url(#f1)"/>
<rect x="610.40" y="623.45" width="31.20" height="7.50" rx="6.24" ry="3.75" fill="#080808" filter="url(#f1)"/>
<rect x="640.40" y="623.25" width="31.20" height="7.50" rx="6.24" ry="3.75" fill="#080808" filter="url(#f1)"/>
<rect x="669.40" y="623.25" width="31.20" height="7.50" rx="6.24" ry="3.75" fill="#080808" filter="url(#f1)"/>
<rect x="698.40" y="621.55" width="32.20" height="7.50" rx="6.44" ry="3.75" fill="#080808" filter="url(#f1)"/>
</g>
<rect x="372.85" y="615.85" width="363.60" height="22.90" fill="none" stroke="#111" stroke-width="1.7"/>
<line x1="467.90" y1="507.50" x2="467.90" y2="642.00" stroke="#000" stroke-width="2.3" stroke-dasharray="10,7.7"/>
<line x1="554.80" y1="474.50" x2="554.80" y2="642.00" stroke="#000" stroke-width="2.3" stroke-dasharray="10,7.7"/>
<line x1="640.50" y1="507.00" x2="640.50" y2="642.00" stroke="#000" stroke-width="2.3" stroke-dasharray="10,7.7"/>
<text transform="translate(18.71,679.16) scale(0.9473,1)" font-size="20.91" font-weight="bold">iii)</text>
<text transform="translate(108.54,685.42) scale(0.9685,1)" font-size="18.23" fill="#8a8a8a" class="sh">Densitometry</text>
<text transform="translate(107.54,684.22) scale(0.9685,1)" font-size="18.23">Densitometry</text>
<line x1="80.60" y1="691.90" x2="80.60" y2="848.00" stroke="#000" stroke-width="2.2"/>
<line x1="75.10" y1="693.00" x2="80.60" y2="693.00" stroke="#000" stroke-width="2.2"/>
<line x1="75.10" y1="742.00" x2="80.60" y2="742.00" stroke="#000" stroke-width="2.2"/>
<line x1="75.10" y1="792.50" x2="80.60" y2="792.50" stroke="#000" stroke-width="2.2"/>
<line x1="75.10" y1="842.00" x2="80.60" y2="842.00" stroke="#000" stroke-width="2.2"/>
<line x1="75.00" y1="842.00" x2="294.60" y2="842.00" stroke="#000" stroke-width="2.2"/>
<line x1="187.00" y1="842.00" x2="187.00" y2="848.00" stroke="#000" stroke-width="2.2"/>
<line x1="293.50" y1="842.00" x2="293.50" y2="848.00" stroke="#000" stroke-width="2.2"/>
<clipPath id="ft27" clipPathUnits="userSpaceOnUse"><rect x="-2000" y="-2000" width="5000" height="1997.19"/><rect x="-2000.00" y="-3.61" width="1977.54" height="2000"/><rect x="-18.96" y="-3.61" width="2.34" height="2000"/><rect x="-13.25" y="-3.61" width="3013.25" height="2000"/></clipPath>
<text transform="translate(66.02,697.44) scale(0.9534,1)" font-size="16.25" text-anchor="end" clip-path="url(#ft27)">1.5</text>
<clipPath id="ft28" clipPathUnits="userSpaceOnUse"><rect x="-2000" y="-2000" width="5000" height="1997.19"/><rect x="-2000.00" y="-3.61" width="1991.10" height="2000"/><rect x="-5.40" y="-3.61" width="2.34" height="2000"/><rect x="0.31" y="-3.61" width="2999.69" height="2000"/></clipPath>
<text transform="translate(67.52,746.34) scale(0.9534,1)" font-size="16.25" text-anchor="end" clip-path="url(#ft28)">1</text>
<text transform="translate(66.02,797.24) scale(0.9534,1)" font-size="16.25" text-anchor="end">0.5</text>
<text transform="translate(66.02,846.54) scale(0.9534,1)" font-size="16.25" text-anchor="end">0</text>
<text transform="translate(29.34,834.12) rotate(-90) scale(0.9400,1)" font-size="17.71" font-weight="bold">Relative to siNeg</text>
<line x1="119.50" y1="728.75" x2="119.50" y2="740.65" stroke="#000" stroke-width="2.2"/>
<line x1="115.75" y1="728.75" x2="123.25" y2="728.75" stroke="#000" stroke-width="2.6"/>
<rect x="107.00" y="740.65" width="25.00" height="101.35" fill="#000"/>
<line x1="149.00" y1="735.50" x2="149.00" y2="752.40" stroke="#000" stroke-width="2.2"/>
<line x1="145.25" y1="735.50" x2="152.75" y2="735.50" stroke="#000" stroke-width="2.6"/>
<rect x="138.10" y="753.50" width="21.80" height="88.50" fill="#6f6f6f" stroke="#000" stroke-width="2.2"/>
<line x1="225.00" y1="710.00" x2="225.00" y2="740.40" stroke="#000" stroke-width="2.2"/>
<line x1="221.25" y1="710.00" x2="228.75" y2="710.00" stroke="#000" stroke-width="2.6"/>
<rect x="212.00" y="740.40" width="26.00" height="101.60" fill="#000"/>
<line x1="254.25" y1="820.50" x2="254.25" y2="825.00" stroke="#000" stroke-width="2.2"/>
<line x1="250.50" y1="820.50" x2="258.00" y2="820.50" stroke="#000" stroke-width="2.6"/>
<rect x="243.10" y="826.10" width="22.30" height="15.90" fill="#6f6f6f" stroke="#000" stroke-width="2.2"/>
<clipPath id="ft29" clipPathUnits="userSpaceOnUse"><rect x="-2000" y="-2000" width="5000" height="1996.91"/><rect x="-2000.00" y="-3.89" width="2017.04" height="2000"/><rect x="21.18" y="-3.89" width="2.66" height="2000"/><rect x="27.83" y="-3.89" width="2972.17" height="2000"/></clipPath>
<text transform="translate(239.57,814.10) scale(0.9116,1)" font-size="19.93" clip-path="url(#ft29)">0.17</text>
<clipPath id="ft30" clipPathUnits="userSpaceOnUse"><rect x="-2000" y="-2000" width="5000" height="1997.14"/><rect x="-2000.00" y="-3.66" width="2037.62" height="2000"/><rect x="41.22" y="-3.66" width="2.39" height="2000"/><rect x="47.08" y="-3.66" width="2952.92" height="2000"/></clipPath>
<text transform="translate(109.45,870.33) scale(1.1130,1)" font-size="16.85" clip-path="url(#ft30)">PUM1</text>
<text transform="translate(214.49,870.33) scale(1.1041,1)" font-size="16.61">PUM2</text>
<rect x="306.90" y="716.90" width="12.50" height="11.20" fill="#000"/>
<rect x="308" y="748" width="10.3" height="9" fill="#6f6f6f" stroke="#000" stroke-width="2.2"/>
<text transform="translate(321.99,728.23) scale(1.1735,1)" font-size="15.76">siNeg</text>
<text transform="translate(321.98,758.14) scale(1.1384,1)" font-size="16.46">siPum2</text>
<text transform="translate(393.62,679.16) scale(1.0135,1)" font-size="20.91" font-weight="bold">iv)</text>
<text transform="translate(505.51,685.35) scale(0.9239,1)" font-size="19.52" fill="#8a8a8a" class="sh">P27 densitometry</text>
<text transform="translate(504.51,684.15) scale(0.9239,1)" font-size="19.52">P27 densitometry</text>
<line x1="475.70" y1="691.50" x2="475.70" y2="847.00" stroke="#000" stroke-width="2.2"/>
<line x1="470.20" y1="692.60" x2="475.70" y2="692.60" stroke="#000" stroke-width="2.2"/>
<line x1="470.20" y1="741.60" x2="475.70" y2="741.60" stroke="#000" stroke-width="2.2"/>
<line x1="470.20" y1="791.30" x2="475.70" y2="791.30" stroke="#000" stroke-width="2.2"/>
<line x1="470.20" y1="840.80" x2="475.70" y2="840.80" stroke="#000" stroke-width="2.2"/>
<line x1="470.00" y1="840.80" x2="689.70" y2="840.80" stroke="#000" stroke-width="2.2"/>
<line x1="583.00" y1="840.80" x2="583.00" y2="846.80" stroke="#000" stroke-width="2.2"/>
<line x1="688.60" y1="840.80" x2="688.60" y2="846.80" stroke="#000" stroke-width="2.2"/>
<clipPath id="ft31" clipPathUnits="userSpaceOnUse"><rect x="-2000" y="-2000" width="5000" height="1997.14"/><rect x="-2000.00" y="-3.66" width="1976.80" height="2000"/><rect x="-19.60" y="-3.66" width="2.39" height="2000"/><rect x="-13.75" y="-3.66" width="3013.75" height="2000"/></clipPath>
<text transform="translate(460.23,697.73) scale(0.9304,1)" font-size="16.82" text-anchor="end" clip-path="url(#ft31)">1.5</text>
<clipPath id="ft32" clipPathUnits="userSpaceOnUse"><rect x="-2000" y="-2000" width="5000" height="1997.14"/><rect x="-2000.00" y="-3.66" width="1990.83" height="2000"/><rect x="-5.57" y="-3.66" width="2.39" height="2000"/><rect x="0.28" y="-3.66" width="2999.72" height="2000"/></clipPath>
<text transform="translate(461.73,746.73) scale(0.9304,1)" font-size="16.82" text-anchor="end" clip-path="url(#ft32)">1</text>
<text transform="translate(460.23,796.23) scale(0.9304,1)" font-size="16.82" text-anchor="end">0.5</text>
<text transform="translate(460.23,846.23) scale(0.9304,1)" font-size="16.82" text-anchor="end">0</text>
<text transform="translate(423.70,861.63) rotate(-90) scale(0.9844,1)" font-size="16.96" font-weight="bold">Relative to siNeg-MC</text>
<line x1="516.00" y1="724.30" x2="516.00" y2="741.00" stroke="#000" stroke-width="2.2"/>
<line x1="512.25" y1="724.30" x2="519.75" y2="724.30" stroke="#000" stroke-width="2.6"/>
<rect x="502.00" y="741.00" width="28.00" height="99.80" fill="#000"/>
<line x1="542.50" y1="790.00" x2="542.50" y2="795.60" stroke="#000" stroke-width="2.2"/>
<line x1="538.75" y1="790.00" x2="546.25" y2="790.00" stroke="#000" stroke-width="2.6"/>
<rect x="530.10" y="796.70" width="24.80" height="44.10" fill="url(#hatch)" stroke="#000" stroke-width="2.2"/>
<line x1="621.40" y1="722.00" x2="621.40" y2="735.20" stroke="#000" stroke-width="2.2"/>
<line x1="617.65" y1="722.00" x2="625.15" y2="722.00" stroke="#000" stroke-width="2.6"/>
<rect x="607.00" y="735.20" width="28.80" height="105.60" fill="#000"/>
<line x1="648.40" y1="779.70" x2="648.40" y2="792.00" stroke="#000" stroke-width="2.2"/>
<line x1="644.65" y1="779.70" x2="652.15" y2="779.70" stroke="#000" stroke-width="2.6"/>
<rect x="635.90" y="793.10" width="25.00" height="47.70" fill="url(#hatch)" stroke="#000" stroke-width="2.2"/>
<text transform="translate(535.56,768.00) scale(1.2307,1)" font-size="16.00">***</text>
<text transform="translate(646.86,763.50) scale(1.2307,1)" font-size="16.00">***</text>
<text transform="translate(503.63,867.89) scale(1.3125,1)" font-size="14.61" font-weight="bold">siNeg</text>
<text transform="translate(601.34,869.43) scale(1.1333,1)" font-size="16.73" font-weight="bold">siPum2</text>
<rect x="696.00" y="674.80" width="15.00" height="10.90" fill="#000"/>
<g transform="translate(698.8,703.9)"><rect x="0" y="0" width="11.6" height="7" fill="#fff" stroke="#000" stroke-width="2.2"/><line x1="1" y1="6.6" x2="10.6" y2="0.4" stroke="#000" stroke-width="2.2"/></g>
<text transform="translate(718.62,686.83) scale(0.9255,1)" font-size="17.24" font-weight="bold">MC</text>
<clipPath id="ft33" clipPathUnits="userSpaceOnUse"><rect x="-2000" y="-2000" width="5000" height="1996.71"/><rect x="-2000.00" y="-4.09" width="2055.13" height="2000"/><rect x="58.60" y="-4.09" width="3.17" height="2000"/><rect x="65.04" y="-4.09" width="2934.96" height="2000"/></clipPath>
<text transform="translate(718.61,713.00) scale(1.0142,1)" font-size="16.55" font-weight="bold" clip-path="url(#ft33)">miR-221</text>
<text transform="translate(155.59,908.21) scale(0.9361,1)" font-size="19.08" font-weight="bold" class="pl">C</text>
<text transform="translate(344.33,901.95) scale(1.0179,1)" font-size="17.59" fill="#8a8a8a" class="sh">3'-UTR luciferase reporter assay</text>
<text transform="translate(343.33,900.75) scale(1.0179,1)" font-size="17.59">3'-UTR luciferase reporter assay</text>
<line x1="266.00" y1="900.90" x2="266.00" y2="1057.50" stroke="#000" stroke-width="2.2"/>
<line x1="260.50" y1="902.00" x2="266.00" y2="902.00" stroke="#000" stroke-width="2.2"/>
<line x1="260.50" y1="952.00" x2="266.00" y2="952.00" stroke="#000" stroke-width="2.2"/>
<line x1="260.50" y1="1002.00" x2="266.00" y2="1002.00" stroke="#000" stroke-width="2.2"/>
<line x1="260.50" y1="1051.50" x2="266.00" y2="1051.50" stroke="#000" stroke-width="2.2"/>
<line x1="260.50" y1="1051.50" x2="653.50" y2="1051.50" stroke="#000" stroke-width="2.2"/>
<line x1="343.50" y1="1051.50" x2="343.50" y2="1056.00" stroke="#000" stroke-width="2.2"/>
<line x1="421.50" y1="1051.50" x2="421.50" y2="1056.00" stroke="#000" stroke-width="2.2"/>
<line x1="499.00" y1="1051.50" x2="499.00" y2="1056.00" stroke="#000" stroke-width="2.2"/>
<line x1="575.30" y1="1051.50" x2="575.30" y2="1056.00" stroke="#000" stroke-width="2.2"/>
<line x1="652.40" y1="1051.50" x2="652.40" y2="1056.00" stroke="#000" stroke-width="2.2"/>
<clipPath id="ft34" clipPathUnits="userSpaceOnUse"><rect x="-2000" y="-2000" width="5000" height="1997.38"/><rect x="-2000.00" y="-3.42" width="1980.89" height="2000"/><rect x="-16.06" y="-3.42" width="2.11" height="2000"/><rect x="-11.00" y="-3.42" width="3011.00" height="2000"/></clipPath>
<text transform="translate(253.85,906.76) scale(1.1804,1)" font-size="13.71" text-anchor="end" clip-path="url(#ft34)">1.5</text>
<clipPath id="ft35" clipPathUnits="userSpaceOnUse"><rect x="-2000" y="-2000" width="5000" height="1997.38"/><rect x="-2000.00" y="-3.42" width="1992.32" height="2000"/><rect x="-4.63" y="-3.42" width="2.11" height="2000"/><rect x="0.43" y="-3.42" width="2999.57" height="2000"/></clipPath>
<text transform="translate(250.85,956.76) scale(1.1804,1)" font-size="13.71" text-anchor="end" clip-path="url(#ft35)">1</text>
<text transform="translate(253.85,1006.66) scale(1.1804,1)" font-size="13.71" text-anchor="end">0.5</text>
<text transform="translate(253.85,1056.36) scale(1.1804,1)" font-size="13.71" text-anchor="end">0</text>
<text transform="translate(206.32,1027.73) rotate(-90) scale(0.9534,1)" font-size="17.55" font-weight="bold">Relative to MC</text>
<line x1="293.75" y1="944.00" x2="293.75" y2="951.40" stroke="#000" stroke-width="2.2"/>
<line x1="290.55" y1="944.00" x2="296.95" y2="944.00" stroke="#000" stroke-width="2.6"/>
<rect x="284.00" y="951.40" width="19.50" height="100.10" fill="#000"/>
<line x1="317.05" y1="900.10" x2="317.05" y2="921.00" stroke="#000" stroke-width="2.2"/>
<line x1="313.85" y1="900.10" x2="320.25" y2="900.10" stroke="#000" stroke-width="2.6"/>
<rect x="308.00" y="922.10" width="18.10" height="129.40" fill="url(#hatch)" stroke="#000" stroke-width="2.2"/>
<line x1="371.75" y1="922.80" x2="371.75" y2="951.40" stroke="#000" stroke-width="2.2"/>
<line x1="368.55" y1="922.80" x2="374.95" y2="922.80" stroke="#000" stroke-width="2.6"/>
<rect x="362.00" y="951.40" width="19.50" height="100.10" fill="#000"/>
<line x1="393.40" y1="1012.40" x2="393.40" y2="1019.00" stroke="#000" stroke-width="2.2"/>
<line x1="390.20" y1="1012.40" x2="396.60" y2="1012.40" stroke="#000" stroke-width="2.6"/>
<rect x="384.30" y="1020.10" width="18.20" height="31.40" fill="url(#hatch)" stroke="#000" stroke-width="2.2"/>
<line x1="448.75" y1="933.20" x2="448.75" y2="950.20" stroke="#000" stroke-width="2.2"/>
<line x1="445.55" y1="933.20" x2="451.95" y2="933.20" stroke="#000" stroke-width="2.6"/>
<rect x="438.50" y="950.20" width="20.50" height="101.30" fill="#000"/>
<line x1="471.10" y1="995.20" x2="471.10" y2="1004.70" stroke="#000" stroke-width="2.2"/>
<line x1="467.90" y1="995.20" x2="474.30" y2="995.20" stroke="#000" stroke-width="2.6"/>
<rect x="462.50" y="1005.80" width="17.20" height="45.70" fill="url(#hatch)" stroke="#000" stroke-width="2.2"/>
<line x1="525.65" y1="928.60" x2="525.65" y2="950.90" stroke="#000" stroke-width="2.2"/>
<line x1="522.45" y1="928.60" x2="528.85" y2="928.60" stroke="#000" stroke-width="2.6"/>
<rect x="515.90" y="950.90" width="19.50" height="100.60" fill="#000"/>
<line x1="548.65" y1="937.60" x2="548.65" y2="958.40" stroke="#000" stroke-width="2.2"/>
<line x1="545.45" y1="937.60" x2="551.85" y2="937.60" stroke="#000" stroke-width="2.6"/>
<rect x="539.60" y="959.50" width="18.10" height="92.00" fill="url(#hatch)" stroke="#000" stroke-width="2.2"/>
<line x1="603.65" y1="936.60" x2="603.65" y2="950.90" stroke="#000" stroke-width="2.2"/>
<line x1="600.45" y1="936.60" x2="606.85" y2="936.60" stroke="#000" stroke-width="2.6"/>
<rect x="593.90" y="950.90" width="19.50" height="100.60" fill="#000"/>
<line x1="624.85" y1="1013.60" x2="624.85" y2="1019.40" stroke="#000" stroke-width="2.2"/>
<line x1="621.65" y1="1013.60" x2="628.05" y2="1013.60" stroke="#000" stroke-width="2.6"/>
<rect x="616.30" y="1020.50" width="17.10" height="31.00" fill="url(#hatch)" stroke="#000" stroke-width="2.2"/>
<text transform="translate(389.24,996.31) scale(1.3580,1)" font-size="15.14">*</text>
<text transform="translate(466.95,976.51) scale(1.2963,1)" font-size="15.43">*</text>
<text transform="translate(617.95,996.31) scale(1.2963,1)" font-size="15.43">**</text>
<rect x="651.50" y="904.75" width="16.20" height="10.75" fill="#000"/>
<g transform="translate(653.8,932.2)"><rect x="0" y="0" width="14.1" height="9.4" fill="#fff" stroke="#000" stroke-width="2.3"/><line x1="1.5" y1="8.6" x2="12.6" y2="0.8" stroke="#000" stroke-width="2.3"/></g>
<text transform="translate(673.90,916.92) scale(0.9010,1)" font-size="18.09" font-weight="bold">MC</text>
<clipPath id="ft36" clipPathUnits="userSpaceOnUse"><rect x="-2000" y="-2000" width="5000" height="1996.65"/><rect x="-2000.00" y="-4.15" width="2057.01" height="2000"/><rect x="60.57" y="-4.15" width="3.25" height="2000"/><rect x="67.17" y="-4.15" width="2932.83" height="2000"/></clipPath>
<text transform="translate(675.16,943.00) scale(0.9839,1)" font-size="17.10" font-weight="bold" clip-path="url(#ft36)">miR-221</text>
<text transform="translate(113.51,1068.27) scale(1.1556,1)" font-size="13.14" font-weight="bold">psiCheck2 Ctrl</text>
<clipPath id="ft37" clipPathUnits="userSpaceOnUse"><rect x="-2000" y="-2000" width="5000" height="1996.98"/><rect x="-2000.00" y="-3.82" width="2089.67" height="2000"/><rect x="92.69" y="-3.82" width="2.81" height="2000"/><rect x="98.35" y="-3.82" width="2901.65" height="2000"/></clipPath>
<text transform="translate(60.25,1092.11) scale(1.1071,1)" font-size="13.94" font-weight="bold" clip-path="url(#ft37)">psiCheck2-221sensor</text>
<text transform="translate(64.02,1115.06) scale(1.1433,1)" font-size="13.19" font-weight="bold">psiCheck2-p27-3’UTR</text>
<text transform="translate(178.22,1139.00) scale(1.0792,1)" font-size="14.13" font-weight="bold">siNeg</text>
<clipPath id="ft38" clipPathUnits="userSpaceOnUse"><rect x="-2000" y="-2000" width="5000" height="1996.84"/><rect x="-2000.00" y="-3.96" width="2045.80" height="2000"/><rect x="49.06" y="-3.96" width="3.00" height="2000"/><rect x="55.12" y="-3.96" width="2944.88" height="2000"/></clipPath>
<text transform="translate(164.44,1163.60) scale(1.0530,1)" font-size="15.31" font-weight="bold" clip-path="url(#ft38)">siPum1</text>
<text transform="translate(164.46,1187.34) scale(0.9872,1)" font-size="15.65" font-weight="bold">siPum2</text>
<line x1="303.00" y1="1069.70" x2="313.00" y2="1069.70" stroke="#000" stroke-width="2.4"/>
<line x1="308.00" y1="1065.10" x2="308.00" y2="1074.30" stroke="#000" stroke-width="2.6"/>
<line x1="379.90" y1="1072.00" x2="385.10" y2="1072.00" stroke="#000" stroke-width="2.4"/>
<line x1="459.15" y1="1072.00" x2="464.35" y2="1072.00" stroke="#000" stroke-width="2.4"/>
<line x1="537.90" y1="1072.00" x2="543.10" y2="1072.00" stroke="#000" stroke-width="2.4"/>
<line x1="612.90" y1="1072.00" x2="618.10" y2="1072.00" stroke="#000" stroke-width="2.4"/>
<line x1="305.40" y1="1093.90" x2="310.60" y2="1093.90" stroke="#000" stroke-width="2.4"/>
<line x1="377.50" y1="1091.30" x2="387.50" y2="1091.30" stroke="#000" stroke-width="2.4"/>
<line x1="382.50" y1="1086.70" x2="382.50" y2="1095.90" stroke="#000" stroke-width="2.6"/>
<line x1="459.15" y1="1093.90" x2="464.35" y2="1093.90" stroke="#000" stroke-width="2.4"/>
<line x1="537.90" y1="1093.90" x2="543.10" y2="1093.90" stroke="#000" stroke-width="2.4"/>
<line x1="612.90" y1="1093.90" x2="618.10" y2="1093.90" stroke="#000" stroke-width="2.4"/>
<line x1="305.40" y1="1115.50" x2="310.60" y2="1115.50" stroke="#000" stroke-width="2.4"/>
<line x1="379.90" y1="1115.50" x2="385.10" y2="1115.50" stroke="#000" stroke-width="2.4"/>
<line x1="456.75" y1="1113.80" x2="466.75" y2="1113.80" stroke="#000" stroke-width="2.4"/>
<line x1="461.75" y1="1109.20" x2="461.75" y2="1118.40" stroke="#000" stroke-width="2.6"/>
<line x1="535.50" y1="1113.80" x2="545.50" y2="1113.80" stroke="#000" stroke-width="2.4"/>
<line x1="540.50" y1="1109.20" x2="540.50" y2="1118.40" stroke="#000" stroke-width="2.6"/>
<line x1="610.50" y1="1113.80" x2="620.50" y2="1113.80" stroke="#000" stroke-width="2.4"/>
<line x1="615.50" y1="1109.20" x2="615.50" y2="1118.40" stroke="#000" stroke-width="2.6"/>
<line x1="303.00" y1="1136.30" x2="313.00" y2="1136.30" stroke="#000" stroke-width="2.4"/>
<line x1="308.00" y1="1131.70" x2="308.00" y2="1140.90" stroke="#000" stroke-width="2.6"/>
<line x1="377.50" y1="1136.30" x2="387.50" y2="1136.30" stroke="#000" stroke-width="2.4"/>
<line x1="382.50" y1="1131.70" x2="382.50" y2="1140.90" stroke="#000" stroke-width="2.6"/>
<line x1="456.75" y1="1136.30" x2="466.75" y2="1136.30" stroke="#000" stroke-width="2.4"/>
<line x1="461.75" y1="1131.70" x2="461.75" y2="1140.90" stroke="#000" stroke-width="2.6"/>
<line x1="537.90" y1="1137.30" x2="543.10" y2="1137.30" stroke="#000" stroke-width="2.4"/>
<line x1="612.90" y1="1137.30" x2="618.10" y2="1137.30" stroke="#000" stroke-width="2.4"/>
<line x1="305.40" y1="1159.50" x2="310.60" y2="1159.50" stroke="#000" stroke-width="2.4"/>
<line x1="379.90" y1="1159.50" x2="385.10" y2="1159.50" stroke="#000" stroke-width="2.4"/>
<line x1="459.15" y1="1159.50" x2="464.35" y2="1159.50" stroke="#000" stroke-width="2.4"/>
<line x1="535.50" y1="1158.30" x2="545.50" y2="1158.30" stroke="#000" stroke-width="2.4"/>
<line x1="540.50" y1="1153.70" x2="540.50" y2="1162.90" stroke="#000" stroke-width="2.6"/>
<line x1="612.90" y1="1159.50" x2="618.10" y2="1159.50" stroke="#000" stroke-width="2.4"/>
<line x1="305.40" y1="1180.50" x2="310.60" y2="1180.50" stroke="#000" stroke-width="2.4"/>
<line x1="379.90" y1="1180.50" x2="385.10" y2="1180.50" stroke="#000" stroke-width="2.4"/>
<line x1="459.15" y1="1180.50" x2="464.35" y2="1180.50" stroke="#000" stroke-width="2.4"/>
<line x1="537.90" y1="1180.50" x2="543.10" y2="1180.50" stroke="#000" stroke-width="2.4"/>
<line x1="610.50" y1="1179.50" x2="620.50" y2="1179.50" stroke="#000" stroke-width="2.4"/>
<line x1="615.50" y1="1174.90" x2="615.50" y2="1184.10" stroke="#000" stroke-width="2.6"/>
</g>
</svg>
</body></html>
